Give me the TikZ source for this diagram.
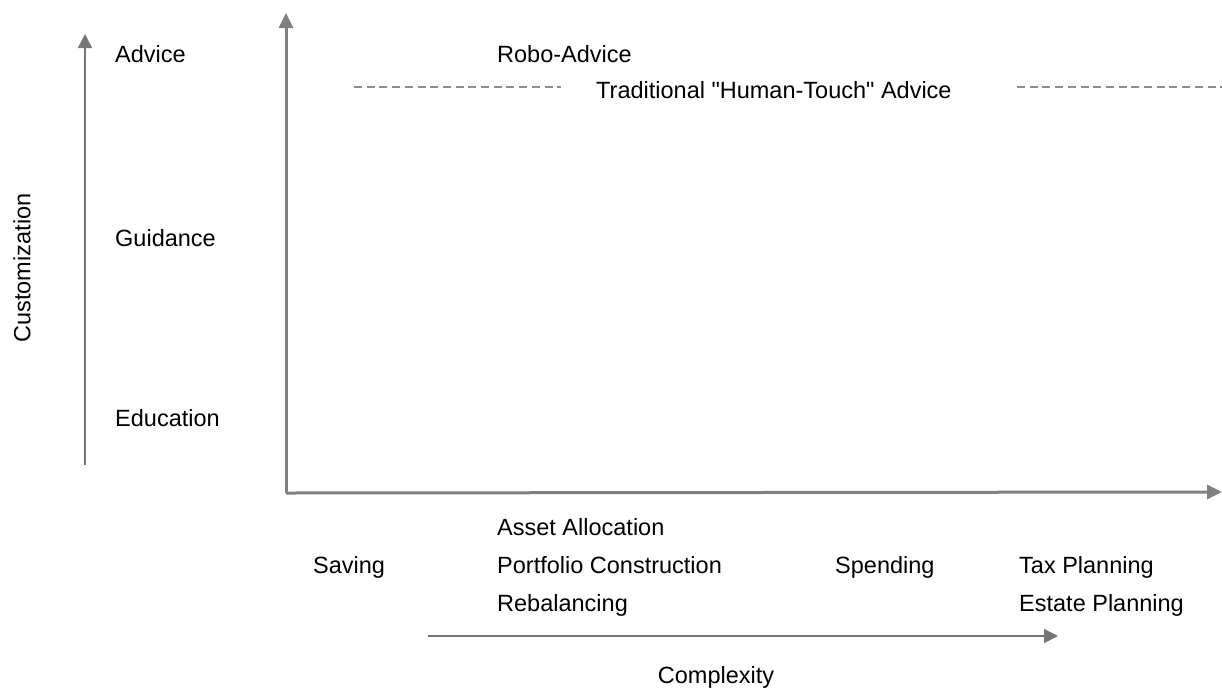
\documentclass[tikz,border=0pt]{standalone}
\usepackage{fontspec}
\setmainfont{Liberation Sans}[Ligatures=TeXOff]
\usetikzlibrary{arrows.meta}
\definecolor{axisgray}{RGB}{128,128,128}
\definecolor{arrowgray}{RGB}{118,118,118}
\definecolor{dashgray}{RGB}{140,140,140}
\begin{document}
\begin{tikzpicture}[x=1pt,y=-1pt,
  lbl/.style={anchor=base west,inner sep=0pt,font=\fontsize{23.5}{27}\selectfont},
  bigaxis/.style={draw=axisgray,line width=3pt,-{Triangle[length=15pt,width=14pt]}},
  smallarrow/.style={draw=arrowgray,line width=1.5pt,-{Triangle[length=14pt,width=14pt]}},
  dashline/.style={draw=dashgray,line width=1.5pt,dash pattern=on 8pt off 4.7pt}]
\useasboundingbox (0,0) rectangle (1222,691);
% coordinates
\coordinate (origin) at (286,493);
\coordinate (ytop) at (286,13);
\coordinate (xend) at (1222,492);
\coordinate (cbot) at (85,465);
\coordinate (ctop) at (85,34);
\coordinate (xs) at (428,636);
\coordinate (xe) at (1058,636);
\coordinate (d1a) at (354,87);
\coordinate (d1b) at (561,87);
\coordinate (d2a) at (1017,87);
\coordinate (d2b) at (1222,87);
% axes
\draw[bigaxis] (origin) -- (ytop);
\draw[bigaxis] (origin) -- (xend);
\draw[smallarrow] (cbot) -- (ctop);
\draw[smallarrow] (xs) -- (xe);
\draw[dashline] (d1a) -- (d1b);
\draw[dashline] (d2a) -- (d2b);
% labels
\node[lbl] (advice) at (115,62) {Advice};
\node[lbl] (guidance) at (115,246.5) {Guidance};
\node[lbl] (education) at (115,426.5) {Education};
\node[lbl] (robo) at (497,62) {Robo-Advice};
\node[lbl] (trad) at (596,98.5) {Traditional "Human-Touch" Advice};
\node[lbl] (asset) at (497,535.5) {Asset Allocation};
\node[lbl] (saving) at (313,573.5) {Saving};
\node[lbl] (portfolio) at (497,573.5) {Portfolio Construction};
\node[lbl] (spending) at (835,573.5) {Spending};
\node[lbl] (tax) at (1019,573.5) {Tax Planning};
\node[lbl] (rebal) at (497,611.5) {Rebalancing};
\node[lbl] (estate) at (1019,611.5) {Estate Planning};
\node[inner sep=0pt,font=\fontsize{23.5}{27}\selectfont] (complexity) at (716,677) {Complexity};
\node[inner sep=0pt,rotate=90,font=\fontsize{23.5}{27}\selectfont] (custom) at (22,268) {Customization};
\end{tikzpicture}
\end{document}
